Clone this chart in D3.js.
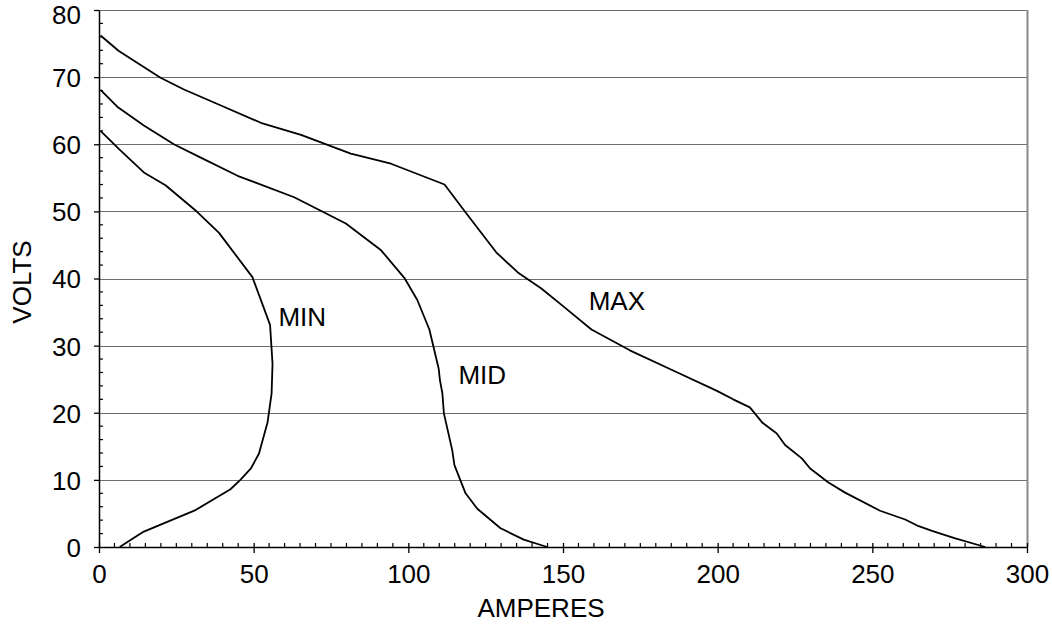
<!DOCTYPE html>
<html>
<head>
<meta charset="utf-8">
<script src="https://cdn.jsdelivr.net/npm/d3@7"></script>
<style>
  body { margin: 0; background: #fff; }
  text { font-family: "Liberation Sans", Arial, Helvetica, sans-serif; fill: #000; }
</style>
</head>
<body>
<script>
// curves: [amperes, volts]
var minCurve = [[0.5,62.0],[6.4,59.3],[14.5,55.8],[21.5,53.9],[31.8,49.9],[38.8,46.8],[49.6,40.2],
  [55.3,33.1],[56.1,27.3],[55.8,22.9],[54.5,18.6],[51.7,13.9],[49.1,11.7],[45.7,10.0],[42.5,8.6],
  [31.2,5.5],[14.5,2.3],[10.7,1.2],[6.7,0]];
var midCurve = [[0.5,68.1],[5.9,65.6],[14.5,62.8],[24.2,60.0],[32.9,58.0],[44.8,55.3],[63.1,52.1],
  [79.8,48.2],[91.2,44.2],[98.7,40.1],[102.9,36.8],[106.8,32.4],[109.8,26.6],[110.2,24.9],[111,22.9],
  [111.5,19.9],[114.2,14.4],[114.9,12.2],[118.5,8.0],[122.3,5.7],[129.8,2.8],[137.3,1.1],[144.9,0]];
var maxCurve = [[0.5,76.2],[6.4,73.9],[19.9,69.9],[27.3,68.2],[38.3,66.0],[52.3,63.2],[65.3,61.4],
  [81.4,58.6],[94.4,57.1],[111.7,54.0],[118.1,50.1],[128.4,43.9],[135.4,40.9],[143,38.5],[150.5,35.7],
  [159.2,32.4],[171.6,29.3],[185.6,26.3],[199.6,23.3],[205,22.0],[210.4,20.8],[212,19.9],[214.5,18.5],
  [219.1,16.9],[221.8,15.2],[227.2,13.2],[229.9,11.7],[235.8,9.6],[241.2,8.1],[252.5,5.4],[260.6,4.1],
  [265,3.1],[269.3,2.4],[276.8,1.3],[286.5,0]];

var seriesNames = ["MIN", "MID", "MAX"];
var labelSpots = [[58.0, 32.9], [116.2, 24.3], [158.3, 35.3]];

var xTicks = [0, 50, 100, 150, 200, 250, 300];
var yTicks = [0, 10, 20, 30, 40, 50, 60, 70, 80];

var width = 1052, height = 628;
var margin = {top: 10, right: 25, bottom: 81, left: 99};
var w = width - margin.left - margin.right,
    h = height - margin.top - margin.bottom;

var svg = d3.select("body").append("svg")
    .attr("width", width)
    .attr("height", height);

var g = svg.append("g")
    .attr("transform", "translate(" + margin.left + "," + margin.top + ")");

var x = d3.scaleLinear().domain([0, 300]).range([0, w]);
var y = d3.scaleLinear().domain([0, 80]).range([h, 0]);

// gridlines
g.selectAll(".grid")
  .data(yTicks.filter(function(d){ return d > 0; }))
  .enter().append("line")
    .attr("class", "grid")
    .attr("x1", 0).attr("x2", w)
    .attr("y1", function(d){ return Math.round(y(d)) + 0.5; })
    .attr("y2", function(d){ return Math.round(y(d)) + 0.5; })
    .attr("stroke", "#6e6e6e")
    .attr("stroke-width", 1);

// right border
g.append("line")
    .attr("x1", w + 0.5).attr("x2", w + 0.5)
    .attr("y1", 0).attr("y2", h)
    .attr("stroke", "#888").attr("stroke-width", 2);

// minor ticks (inside)
var xMinor = d3.range(0, 301, 5).filter(function(d){ return d % 50 != 0; });
var yMinor = d3.range(0, 81, 2).filter(function(d){ return d % 10 != 0; });

var xAxis = g.append("g")
    .attr("transform", "translate(0," + h + ")")
    .call(d3.axisBottom(x).tickValues(xTicks).tickSize(6).tickPadding(12).tickSizeOuter(0));
xAxis.selectAll(".tick line").attr("y1", -4).attr("stroke-width", 1.3);
xAxis.select(".domain").attr("stroke-width", 1.5);
xAxis.selectAll(".tick text").style("font-size", "26px");
xAxis.selectAll(".minor")
  .data(xMinor).enter().append("line")
    .attr("x1", function(d){ return x(d); }).attr("x2", function(d){ return x(d); })
    .attr("y1", 0).attr("y2", -4)
    .attr("stroke", "#000").attr("stroke-width", 1.2);

var yAxis = g.append("g")
    .call(d3.axisLeft(y).tickValues(yTicks).tickSize(5).tickPadding(13).tickSizeOuter(0));
yAxis.select(".domain").attr("stroke-width", 1.5);
yAxis.selectAll(".tick line").attr("stroke-width", 1.3);
yAxis.selectAll(".tick text").style("font-size", "26px")
    .attr("dy", function(d){ return d == 80 ? "0.5em" : "0.36em"; });
yAxis.selectAll(".minor")
  .data(yMinor).enter().append("line")
    .attr("y1", function(d){ return y(d); }).attr("y2", function(d){ return y(d); })
    .attr("x1", 0).attr("x2", 4)
    .attr("stroke", "#000").attr("stroke-width", 1.2);

// curves
var line = d3.line()
    .x(function(d){ return x(d[0]); })
    .y(function(d){ return y(d[1]); });

[minCurve, midCurve, maxCurve].forEach(function(c){
  g.append("path")
      .datum(c)
      .attr("d", line)
      .attr("fill", "none")
      .attr("stroke", "#000")
      .attr("stroke-width", 1.8)
      .attr("stroke-linejoin", "round");
});

// curve names
g.selectAll(".lbl")
  .data(seriesNames).enter().append("text")
    .attr("x", function(d, i){ return x(labelSpots[i][0]); })
    .attr("y", function(d, i){ return y(labelSpots[i][1]); })
    .style("font-size", "26px")
    .text(function(d){ return d; });

// axis titles
svg.append("text")
    .attr("x", 541)
    .attr("y", 617)
    .attr("text-anchor", "middle")
    .style("font-size", "26px")
    .text("AMPERES");

svg.append("text")
    .attr("transform", "translate(31,282) rotate(-90)")
    .attr("text-anchor", "middle")
    .style("font-size", "26px")
    .text("VOLTS");
</script>
</body>
</html>
